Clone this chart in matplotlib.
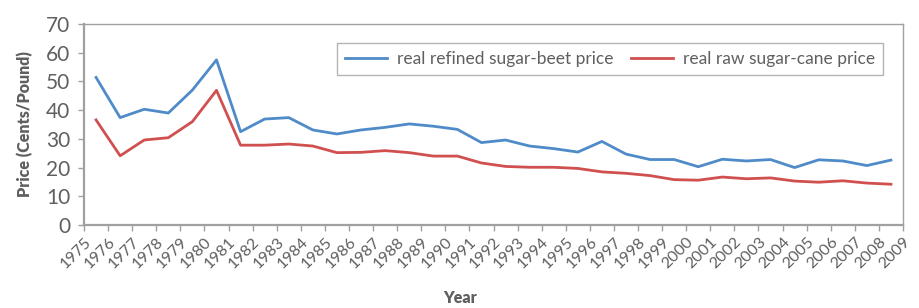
import matplotlib
matplotlib.use("Agg")
import matplotlib.pyplot as plt
import numpy as np

plt.rcParams['font.family'] = ['Lato', 'DejaVu Sans']

years = list(range(1975, 2009))
tick_years = list(range(1975, 2010))
beet = [51.4, 37.4, 40.3, 39.0, 47.0, 57.5, 32.5, 36.9, 37.4, 33.1,
        31.7, 33.1, 34.0, 35.2, 34.4, 33.3, 28.7, 29.6, 27.5, 26.6,
        25.4, 29.1, 24.7, 22.8, 22.8, 20.3, 22.9, 22.3, 22.8, 20.0,
        22.7, 22.3, 20.7, 22.6]
cane = [36.6, 24.1, 29.6, 30.4, 36.0, 46.9, 27.8, 27.8, 28.2, 27.5,
        25.2, 25.3, 25.9, 25.2, 24.0, 24.0, 21.6, 20.4, 20.1, 20.1,
        19.7, 18.5, 18.0, 17.2, 15.8, 15.6, 16.7, 16.1, 16.4, 15.3,
        14.9, 15.4, 14.6, 14.2]
yticks = [0, 10, 20, 30, 40, 50, 60, 70]

blue = '#4f8bc8'
red = '#d0504f'
gray_text = '#5f5f5f'
spine = '#a0a0a0'

fig = plt.figure(figsize=(9.2, 3.08), dpi=100)
ax = fig.add_axes([84/920, 1-225/308, 819/920, 201/308])

x = np.array(years) + 0.5
ax.plot(x, beet, color=blue, lw=2.0, label='real refined sugar-beet price')
ax.plot(x, cane, color=red, lw=2.0, label='real raw sugar-cane price')

ax.set_xlim(1975, 2009)
ax.set_ylim(0, 70)
ax.set_yticks(yticks)
ax.set_xticks(tick_years)
ax.set_xticklabels([str(y) for y in tick_years], rotation=45, ha='right', va='top',
                   rotation_mode='anchor', fontsize=11.5, color=gray_text)
ax.set_yticklabels([str(v) for v in yticks], fontsize=15, color=gray_text)

for s in ax.spines.values():
    s.set_color(spine)
    s.set_linewidth(1.0)
ax.spines['left'].set_linewidth(1.6)
ax.spines['bottom'].set_linewidth(1.6)
ax.tick_params(axis='both', direction='out', length=4, width=1, color=spine)
ax.tick_params(axis='y', pad=6)
ax.tick_params(axis='x', pad=3)

ax.set_ylabel('Price (Cents/Pound)', fontsize=11.5, fontweight='heavy', color=gray_text, labelpad=9)
fig.text(460/920, 1-298/308, 'Year', fontsize=11.5, fontweight='heavy', color=gray_text,
         ha='center', va='center')

leg = ax.legend(loc='upper right', bbox_to_anchor=((883-84)/819, (225-43)/201),
                ncol=2, frameon=True, fancybox=False, fontsize=12.5, borderaxespad=0,
                handlelength=2.4, columnspacing=1.0, borderpad=0.45, handletextpad=0.6)
leg.get_frame().set_edgecolor(spine)
leg.get_frame().set_linewidth(1.0)
for t in leg.get_texts():
    t.set_color(gray_text)

fig.savefig('out.png', dpi=100)
